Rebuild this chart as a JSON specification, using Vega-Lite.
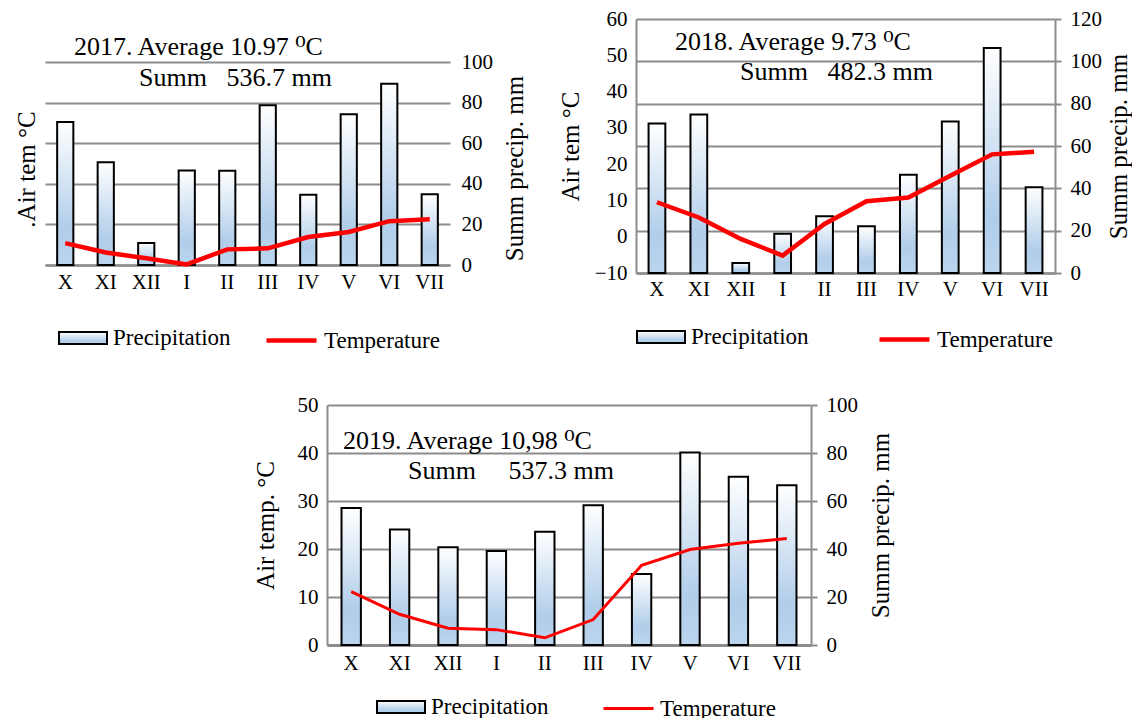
{
  "$schema": "https://vega.github.io/schema/vega-lite/v6.json",
  "description": "Monthly precipitation and air temperature, 2017-2019.",
  "background": "white",
  "padding": {"left": 14, "top": 8, "right": 0, "bottom": 0},
  "datasets": {
    "p2017": [
      {"month": "X", "precip": 70.5, "temp": 10.8},
      {"month": "XI", "precip": 50.6, "temp": 6.2},
      {"month": "XII", "precip": 10.9, "temp": 3.3},
      {"month": "I", "precip": 46.5, "temp": 0.3},
      {"month": "II", "precip": 46.4, "temp": 7.7},
      {"month": "III", "precip": 78.7, "temp": 8.2},
      {"month": "IV", "precip": 34.6, "temp": 13.8},
      {"month": "V", "precip": 74.3, "temp": 16.3},
      {"month": "VI", "precip": 89.3, "temp": 21.6},
      {"month": "VII", "precip": 34.9, "temp": 22.5}
    ],
    "p2018": [
      {"month": "X", "precip": 70.6, "temp": 9.5},
      {"month": "XI", "precip": 74.9, "temp": 5.3},
      {"month": "XII", "precip": 4.7, "temp": -0.6},
      {"month": "I", "precip": 18.6, "temp": -5.2},
      {"month": "II", "precip": 26.8, "temp": 3.5},
      {"month": "III", "precip": 22.1, "temp": 9.8},
      {"month": "IV", "precip": 46.4, "temp": 10.8},
      {"month": "V", "precip": 71.6, "temp": 16.8},
      {"month": "VI", "precip": 106.3, "temp": 22.7},
      {"month": "VII", "precip": 40.5, "temp": 23.4}
    ],
    "p2019": [
      {"month": "X", "precip": 57.1, "temp": 11.1},
      {"month": "XI", "precip": 48.1, "temp": 6.4},
      {"month": "XII", "precip": 40.7, "temp": 3.5},
      {"month": "I", "precip": 39.2, "temp": 3.2},
      {"month": "II", "precip": 47.2, "temp": 1.5},
      {"month": "III", "precip": 58.2, "temp": 5.3},
      {"month": "IV", "precip": 29.6, "temp": 16.6},
      {"month": "V", "precip": 80.2, "temp": 19.9},
      {"month": "VI", "precip": 70.1, "temp": 21.2},
      {"month": "VII", "precip": 66.6, "temp": 22.2}
    ]
  },
  "vconcat": [
    {
      "hconcat": [
        {
          "width": 405,
          "height": 246,
          "data": {"name": "p2017"},
          "title": {
            "text": "2017. Average 10.97 \u2070C",
            "subtitle": "\u200b\u00a0\u00a0\u00a0\u00a0\u00a0\u00a0\u00a0\u00a0\u00a0\u00a0Summ\u00a0\u00a0\u00a0536.7 mm",
            "dx": 29,
            "offset": -72,
            "subtitlePadding": 5
          },
          "encoding": {
            "x": {
              "field": "month",
              "type": "ordinal",
              "sort": null,
              "scale": {"paddingInner": 0.6, "paddingOuter": 0.3},
              "axis": {"labelPadding": 6}
            }
          },
          "layer": [
            {
              "mark": {
                "type": "bar",
                "strokeWidth": 2,
                "fill": {"gradient": "linear", "x1": 0, "y1": 0, "x2": 0, "y2": 1,
                  "stops": [{"offset": 0, "color": "#ffffff"}, {"offset": 0.75, "color": "#b0cdea"}, {"offset": 1, "color": "#bcd5ee"}]}
              },
              "encoding": {
                "y": {
                  "field": "precip",
                  "type": "quantitative",
                  "scale": {"domain": [0, 121.2], "nice": false},
                  "axis": {
                    "orient": "right",
                    "values": [0, 20, 40, 60, 80, 100],
                    "grid": true,
                    "domain": false,
                    "ticks": false,
                    "labelPadding": 11,
                    "title": "Summ precip. mm",
                    "titleAngle": 270,
                    "titleBaseline": "top",
                    "titlePadding": 10,
                    "titleY": 149
                  }
                },
                "stroke": {
                  "datum": "Precipitation",
                  "type": "nominal",
                  "scale": {"domain": ["Precipitation"], "range": ["black"]},
                  "legend": {
                    "orient": "none",
                    "legendX": 13,
                    "legendY": 294,
                    "symbolType": "M-1,-0.25H1V0.25H-1Z",
                    "symbolSize": 2304,
                    "symbolStrokeWidth": 2,
                    "encode": {
                      "symbols": {
                        "update": {
                          "fill": {"value": {"gradient": "linear", "x1": 0, "y1": 0, "x2": 0, "y2": 1,
                            "stops": [{"offset": 0, "color": "#ffffff"}, {"offset": 1, "color": "#b0cdea"}]}},
                          "opacity": {"value": 1}
                        }
                      }
                    }
                  }
                }
              }
            },
            {
              "mark": {"type": "line", "strokeWidth": 4.5},
              "encoding": {
                "y": {
                  "field": "temp",
                  "type": "quantitative",
                  "scale": {"domain": [0, 121.2], "nice": false},
                  "axis": {
                    "orient": "left",
                    "labels": false,
                    "ticks": false,
                    "domain": false,
                    "grid": false,
                    "title": ".Air tem \u00b0C",
                    "titlePadding": 6,
                    "titleY": 150
                  }
                },
                "color": {
                  "datum": "Temperature",
                  "type": "nominal",
                  "scale": {"domain": ["Temperature"], "range": ["#ff0000"]},
                  "legend": {
                    "orient": "none",
                    "legendX": 219,
                    "legendY": 294,
                    "symbolType": "stroke",
                    "symbolSize": 2500,
                    "symbolStrokeWidth": 4.5
                  }
                }
              }
            }
          ],
          "resolve": {"scale": {"y": "independent"}}
        },
        {
          "width": 419,
          "height": 254,
          "data": {"name": "p2018"},
          "title": {
            "text": "2018. Average 9.73 \u2070C",
            "subtitle": "\u200b\u00a0\u00a0\u00a0\u00a0\u00a0\u00a0\u00a0\u00a0\u00a0\u00a0Summ\u00a0\u00a0\u00a0482.3 mm",
            "dx": 39,
            "offset": -77,
            "subtitlePadding": 4
          },
          "encoding": {
            "x": {
              "field": "month",
              "type": "ordinal",
              "sort": null,
              "scale": {"paddingInner": 0.6, "paddingOuter": 0.3},
              "axis": {"labelPadding": 5}
            }
          },
          "layer": [
            {
              "mark": {
                "type": "bar",
                "strokeWidth": 2,
                "fill": {"gradient": "linear", "x1": 0, "y1": 0, "x2": 0, "y2": 1,
                  "stops": [{"offset": 0, "color": "#ffffff"}, {"offset": 0.75, "color": "#b0cdea"}, {"offset": 1, "color": "#bcd5ee"}]}
              },
              "encoding": {
                "y": {
                  "field": "precip",
                  "type": "quantitative",
                  "scale": {"domain": [0, 120], "nice": false},
                  "axis": {
                    "orient": "right",
                    "values": [0, 20, 40, 60, 80, 100, 120],
                    "grid": true,
                    "domain": true,
                    "ticks": true,
                    "tickSize": 6,
                    "labelPadding": 9,
                    "title": "Summ precip. mm",
                    "titleAngle": 270,
                    "titleBaseline": "top",
                    "titlePadding": 5
                  }
                },
                "stroke": {
                  "datum": "Precipitation",
                  "type": "nominal",
                  "scale": {"domain": ["Precipitation"], "range": ["black"]},
                  "legend": {
                    "orient": "none",
                    "legendX": 0,
                    "legendY": 293,
                    "symbolType": "M-1,-0.25H1V0.25H-1Z",
                    "symbolSize": 2304,
                    "symbolStrokeWidth": 2,
                    "encode": {
                      "symbols": {
                        "update": {
                          "fill": {"value": {"gradient": "linear", "x1": 0, "y1": 0, "x2": 0, "y2": 1,
                            "stops": [{"offset": 0, "color": "#ffffff"}, {"offset": 1, "color": "#b0cdea"}]}},
                          "opacity": {"value": 1}
                        }
                      }
                    }
                  }
                }
              }
            },
            {
              "mark": {"type": "line", "strokeWidth": 4.5},
              "encoding": {
                "y": {
                  "field": "temp",
                  "type": "quantitative",
                  "scale": {"domain": [-10, 60], "nice": false, "zero": false},
                  "axis": {
                    "orient": "left",
                    "values": [-10, 0, 10, 20, 30, 40, 50, 60],
                    "ticks": false,
                    "domain": true,
                    "grid": false,
                    "labelPadding": 9,
                    "title": "Air tem \u00b0C",
                    "titlePadding": 11
                  }
                },
                "color": {
                  "datum": "Temperature",
                  "type": "nominal",
                  "scale": {"domain": ["Temperature"], "range": ["#ff0000"]},
                  "legend": {
                    "orient": "none",
                    "legendX": 241,
                    "legendY": 293,
                    "symbolType": "stroke",
                    "symbolSize": 2500,
                    "symbolStrokeWidth": 4.5
                  }
                }
              }
            }
          ],
          "resolve": {"scale": {"y": "independent"}}
        }
      ],
      "spacing": 186,
      "bounds": "flush",
      "resolve": {
        "scale": {"stroke": "independent", "color": "independent"},
        "legend": {"stroke": "independent", "color": "independent"}
      }
    },
    {
      "hconcat": [
        {
          "width": 262,
          "height": 240,
          "data": {"values": []},
          "mark": "point"
        },
        {
          "width": 484,
          "height": 240,
          "data": {"name": "p2019"},
          "title": {
            "text": "2019. Average 10,98 \u2070C",
            "subtitle": "\u200b\u00a0\u00a0\u00a0\u00a0\u00a0\u00a0\u00a0\u00a0\u00a0\u00a0Summ\u00a0\u00a0\u00a0\u00a0\u00a0537.3 mm",
            "dx": 16,
            "offset": -90,
            "subtitlePadding": 4
          },
          "encoding": {
            "x": {
              "field": "month",
              "type": "ordinal",
              "sort": null,
              "scale": {"paddingInner": 0.6, "paddingOuter": 0.3},
              "axis": {"labelPadding": 7, "domainWidth": 3}
            }
          },
          "layer": [
            {
              "mark": {
                "type": "bar",
                "strokeWidth": 2,
                "fill": {"gradient": "linear", "x1": 0, "y1": 0, "x2": 0, "y2": 1,
                  "stops": [{"offset": 0, "color": "#ffffff"}, {"offset": 0.75, "color": "#b0cdea"}, {"offset": 1, "color": "#bcd5ee"}]}
              },
              "encoding": {
                "y": {
                  "field": "precip",
                  "type": "quantitative",
                  "scale": {"domain": [0, 100], "nice": false},
                  "axis": {
                    "orient": "right",
                    "values": [0, 20, 40, 60, 80, 100],
                    "grid": true,
                    "domain": true,
                    "ticks": true,
                    "tickSize": 6,
                    "labelPadding": 9,
                    "title": "Summ precip. mm",
                    "titleAngle": 270,
                    "titleBaseline": "top",
                    "titlePadding": 11
                  }
                },
                "stroke": {
                  "datum": "Precipitation",
                  "type": "nominal",
                  "scale": {"domain": ["Precipitation"], "range": ["black"]},
                  "legend": {
                    "orient": "none",
                    "legendX": 49,
                    "legendY": 277,
                    "symbolType": "M-1,-0.25H1V0.25H-1Z",
                    "symbolSize": 2304,
                    "symbolStrokeWidth": 2,
                    "encode": {
                      "symbols": {
                        "update": {
                          "fill": {"value": {"gradient": "linear", "x1": 0, "y1": 0, "x2": 0, "y2": 1,
                            "stops": [{"offset": 0, "color": "#ffffff"}, {"offset": 1, "color": "#b0cdea"}]}},
                          "opacity": {"value": 1}
                        }
                      }
                    }
                  }
                }
              }
            },
            {
              "mark": {"type": "line", "strokeWidth": 3},
              "encoding": {
                "y": {
                  "field": "temp",
                  "type": "quantitative",
                  "scale": {"domain": [0, 50], "nice": false},
                  "axis": {
                    "orient": "left",
                    "values": [0, 10, 20, 30, 40, 50],
                    "ticks": false,
                    "domain": true,
                    "grid": false,
                    "labelPadding": 9,
                    "title": "Air temp. \u00b0C",
                    "titlePadding": 19
                  }
                },
                "color": {
                  "datum": "Temperature",
                  "type": "nominal",
                  "scale": {"domain": ["Temperature"], "range": ["#ff0000"]},
                  "legend": {
                    "orient": "none",
                    "legendX": 275,
                    "legendY": 277,
                    "symbolType": "stroke",
                    "symbolSize": 2500,
                    "symbolStrokeWidth": 3
                  }
                }
              }
            }
          ],
          "resolve": {"scale": {"y": "independent"}}
        }
      ],
      "spacing": 20,
      "bounds": "flush",
      "resolve": {
        "scale": {"stroke": "independent", "color": "independent"},
        "legend": {"stroke": "independent", "color": "independent"}
      }
    }
  ],
  "spacing": 386,
  "bounds": "flush",
  "resolve": {
    "scale": {"stroke": "independent", "color": "independent"},
    "legend": {"stroke": "independent", "color": "independent"}
  },
  "config": {
    "font": "Liberation Serif",
    "view": {"stroke": null},
    "axis": {
      "labelFont": "Liberation Serif",
      "titleFont": "Liberation Serif",
      "labelFontSize": 21,
      "titleFontSize": 25,
      "titleFontWeight": "normal",
      "labelColor": "black",
      "titleColor": "black",
      "gridColor": "#8c8c8c",
      "gridWidth": 2,
      "domainColor": "#8c8c8c",
      "domainWidth": 2,
      "tickColor": "#8c8c8c",
      "tickWidth": 2
    },
    "axisX": {"labelAngle": 0, "ticks": false, "title": null, "grid": false, "domainWidth": 2.5},
    "title": {
      "font": "Liberation Serif, DejaVu Serif",
      "fontSize": 26,
      "fontWeight": "normal",
      "color": "black",
      "subtitleFont": "Liberation Serif, DejaVu Serif",
      "subtitleFontSize": 26,
      "subtitleColor": "black",
      "anchor": "start",
      "frame": "group"
    },
    "legend": {
      "title": null,
      "direction": "horizontal",
      "padding": 0,
      "labelFont": "Liberation Serif",
      "labelFontSize": 23,
      "labelColor": "black",
      "labelOffset": 5
    }
  }
}
